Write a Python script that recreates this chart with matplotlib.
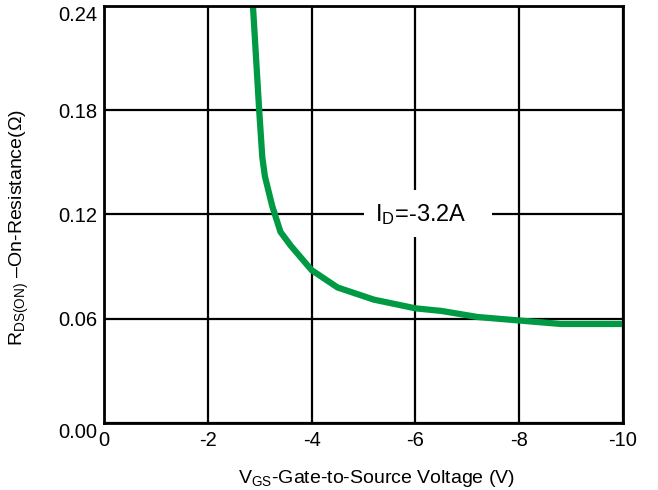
import matplotlib
matplotlib.use("Agg")
import matplotlib.pyplot as plt
from matplotlib.patches import Rectangle

plt.rcParams['font.family'] = ['Liberation Sans', 'DejaVu Sans']
plt.rcParams['mathtext.fontset'] = 'custom'
plt.rcParams['mathtext.rm'] = 'Liberation Sans'
plt.rcParams['mathtext.it'] = 'Liberation Sans'

# On-resistance vs gate-to-source voltage, I_D = -3.2 A
vgs = [-2.87, -2.99, -3.05, -3.10, -3.24, -3.40, -3.60, -4.00, -4.50,
       -5.20, -6.00, -6.50, -7.20, -8.00, -8.80, -10.0]
rds_on = [0.240, 0.180, 0.153, 0.142, 0.125, 0.110, 0.102, 0.088, 0.078,
          0.071, 0.066, 0.0645, 0.061, 0.059, 0.057, 0.057]

x_ticks = [0, -2, -4, -6, -8, -10]
x_tick_labels = ["0", "-2", "-4", "-6", "-8", "-10"]
y_ticks = [0.00, 0.06, 0.12, 0.18, 0.24]
y_tick_labels = ["0.00", "0.06", "0.12", "0.18", "0.24"]
curve_label = r"$\mathregular{I_D}$=-3.2A"

fig = plt.figure(figsize=(6.58, 4.90), dpi=100)
ax = fig.add_axes([104 / 658, 1 - 423 / 490, (623 - 104) / 658, (423 - 6) / 490])

ax.set_xlim(0, -10)
ax.set_ylim(0, 0.24)
ax.set_xticks(x_ticks)
ax.set_xticklabels(x_tick_labels)
ax.set_yticks(y_ticks)
ax.set_yticklabels(y_tick_labels)
ax.tick_params(axis='both', length=0, labelsize=14.5, colors='black')
ax.tick_params(axis='x', pad=6)
ax.tick_params(axis='y', pad=5)

ax.grid(True, color='black', linewidth=1.6, zorder=1)
for s in ax.spines.values():
    s.set_linewidth(2.0)
    s.set_color('black')
    s.set_zorder(5)

# Outer tick labels sit just below their gridlines
ylabels = ax.get_yticklabels()
ylabels[0].set_verticalalignment('top')
ylabels[-1].set_verticalalignment('top')

ax.plot(vgs, rds_on, color='#009a44', linewidth=4.5, zorder=4,
        solid_joinstyle='round', clip_on=True)

# White knock-out behind the curve label
ax.add_patch(Rectangle((-5.01, 0.107), -2.47, 0.027, facecolor='white',
                       edgecolor='none', zorder=2))
ax.text(-6.1, 0.12, curve_label, fontsize=17, ha='center', va='center',
        zorder=3)

ax.set_xlabel(r"$\mathregular{V_{GS}}$-Gate-to-Source Voltage (V)",
              fontsize=14)
ax.xaxis.set_label_coords((376 - 104) / (623 - 104), -(468 - 423) / (423 - 6))
ax.set_ylabel(r"$\mathregular{R_{DS(ON)}}$ –On-Resistance(Ω)", fontsize=14)
ax.yaxis.set_label_coords(-(104 - 31) / (623 - 104), (423 - 228) / (423 - 6))

fig.savefig("out.png", dpi=100, facecolor='white')
